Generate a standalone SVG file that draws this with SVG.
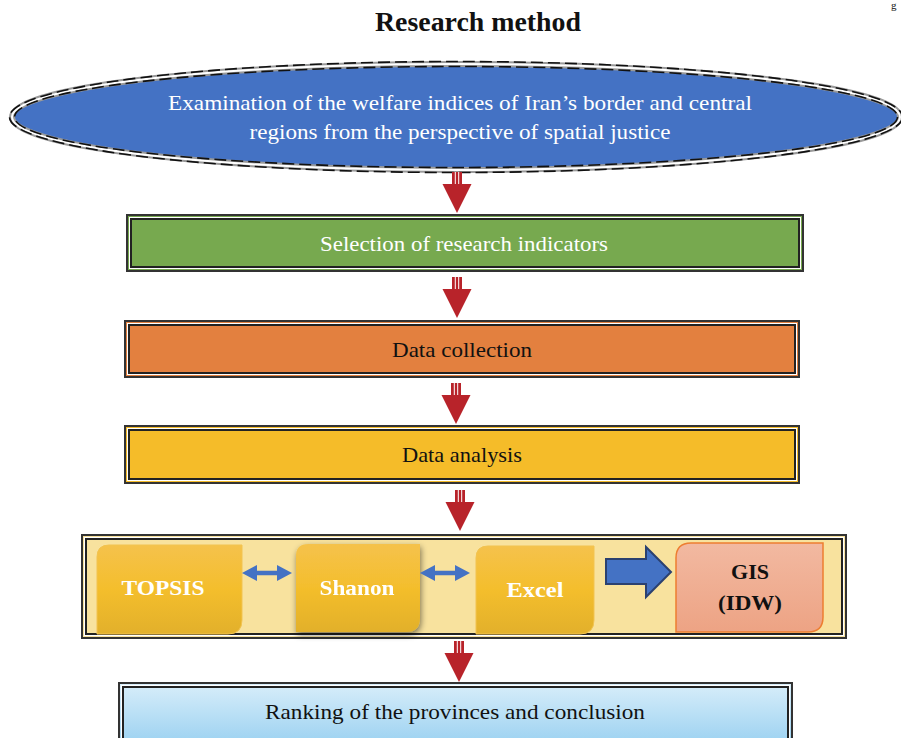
<svg xmlns="http://www.w3.org/2000/svg" width="901" height="738" viewBox="0 0 901 738">
<style>
.t{font-family:"Liberation Serif","Times New Roman",serif;text-anchor:middle}
.w{fill:#ffffff}
.k{fill:#111111}
.b{font-weight:bold}
.ob{stroke:#333;stroke-width:2}
.wl{fill:none;stroke:#ffffff;stroke-width:1}
.ib{fill:none;stroke:#222;stroke-width:2}
.red{fill:#B8232A}
.gap{stroke:#ffffff;stroke-width:1}
.blue{fill:#4472C4}
</style>
<defs>
<linearGradient id="gy" x1="0" y1="0" x2="0" y2="1">
<stop offset="0" stop-color="#F5C24C"/><stop offset="0.5" stop-color="#F4BE2C"/><stop offset="1" stop-color="#E2B02B"/>
</linearGradient>
<linearGradient id="gr" x1="0" y1="0" x2="0" y2="1">
<stop offset="0" stop-color="#F2B9A1"/><stop offset="1" stop-color="#EDA384"/>
</linearGradient>
<linearGradient id="gb" x1="0" y1="0" x2="0" y2="1">
<stop offset="0" stop-color="#D8EEFA"/><stop offset="1" stop-color="#9DD2F1"/>
</linearGradient>
<filter id="sh" x="-20%" y="-20%" width="140%" height="140%">
<feGaussianBlur in="SourceAlpha" stdDeviation="3"/>
<feOffset dx="1" dy="3" result="o"/>
<feComponentTransfer><feFuncA type="linear" slope="0.5"/></feComponentTransfer>
<feMerge><feMergeNode/><feMergeNode in="SourceGraphic"/></feMerge>
</filter>
<g id="redArrow">
<rect class="red" x="-5" y="0" width="10" height="12"/>
<line class="gap" x1="-1.7" y1="0" x2="-1.7" y2="12"/>
<line class="gap" x1="1.7" y1="0" x2="1.7" y2="12"/>
<polygon class="red" points="-14.5,12 14.5,12 0,41"/>
</g>
<path id="dbl" d="M0,0 L15,-8 L15,-2.2 L35,-2.2 L35,-8 L50,0 L35,8 L35,2.2 L15,2.2 L15,8 Z"/>
</defs>

<text class="t k b" x="478" y="31" font-size="27" textLength="206" lengthAdjust="spacingAndGlyphs">Research method</text>
<text x="891" y="9" font-size="11" font-family="Liberation Serif, serif" fill="#111">g</text>

<g id="node-examination">
<ellipse cx="456" cy="117" rx="444" ry="53" fill="#4472C4" stroke="#9a9a9a" stroke-width="6"/>
<ellipse cx="456" cy="117" rx="444" ry="53" fill="none" stroke="#ffffff" stroke-width="2"/>
<ellipse cx="456" cy="117" rx="446.5" ry="55.5" fill="none" stroke="#111" stroke-width="1.6" stroke-dasharray="12 5"/>
<ellipse cx="456" cy="117" rx="441.5" ry="50.5" fill="none" stroke="#111" stroke-width="1.6" stroke-dasharray="12 5"/>
<text class="t w" x="460" y="110" font-size="21" textLength="584" lengthAdjust="spacingAndGlyphs">Examination of the welfare indices of Iran’s border and central</text>
<text class="t w" x="460" y="139" font-size="21" textLength="421" lengthAdjust="spacingAndGlyphs">regions from the perspective of spatial justice</text>
</g>

<g id="node-selection">
<rect class="ob" x="127" y="215" width="676" height="56" fill="#77A94F"/>
<rect class="wl" x="129.5" y="217.5" width="671" height="51"/>
<rect class="ib" x="131" y="219" width="668" height="48"/>
<text class="t w" x="464" y="251" font-size="21" textLength="288" lengthAdjust="spacingAndGlyphs">Selection of research indicators</text>
</g>

<g id="node-collection">
<rect class="ob" x="125" y="321" width="674" height="56" fill="#E3803F"/>
<rect class="wl" x="127.5" y="323.5" width="669" height="51"/>
<rect class="ib" x="129" y="325" width="666" height="48"/>
<text class="t k" x="462" y="357" font-size="21" textLength="140" lengthAdjust="spacingAndGlyphs">Data collection</text>
</g>

<g id="node-analysis">
<rect class="ob" x="125" y="426" width="674" height="57" fill="#F5BC29"/>
<rect class="wl" x="127.5" y="428.5" width="669" height="52"/>
<rect class="ib" x="129" y="430" width="666" height="49"/>
<text class="t k" x="462" y="462" font-size="21" textLength="120" lengthAdjust="spacingAndGlyphs">Data analysis</text>
</g>

<g id="node-tools">
<rect class="ob" x="82" y="535" width="764" height="103" fill="#F8E29E"/>
<rect class="wl" x="84.5" y="537.5" width="759" height="98"/>
<rect class="ib" x="86" y="539" width="756" height="95"/>
</g>

<g id="node-topsis">
<path d="M97,634 L97,557 Q97,545 109,545 L242,545 L242,620 Q242,634 228,634 Z" fill="url(#gy)" stroke="#F2C350" stroke-width="1"/>
<text class="t w b" x="163" y="595" font-size="22" textLength="83" lengthAdjust="spacingAndGlyphs">TOPSIS</text>
</g>

<g id="node-shanon" filter="url(#sh)">
<path d="M296,632 L296,556 Q296,544 308,544 L420,544 L420,618 Q420,632 406,632 Z" fill="url(#gy)"/>
<text class="t w b" x="357" y="595" font-size="22" textLength="75" lengthAdjust="spacingAndGlyphs">Shanon</text>
</g>

<g id="node-excel">
<path d="M476,634 L476,558 Q476,546 488,546 L594,546 L594,620 Q594,634 580,634 Z" fill="url(#gy)" stroke="#F2C350" stroke-width="1"/>
<text class="t w b" x="535" y="597" font-size="22" textLength="57" lengthAdjust="spacingAndGlyphs">Excel</text>
</g>

<g id="node-gis">
<path d="M676,632 L676,558 Q676,543 691,543 L823,543 L823,617 Q823,632 808,632 Z" fill="url(#gr)" stroke="#ED7D31" stroke-width="1.5"/>
<text class="t k b" x="750" y="579" font-size="22" textLength="38" lengthAdjust="spacingAndGlyphs">GIS</text>
<text class="t k b" x="750" y="610" font-size="22" textLength="64" lengthAdjust="spacingAndGlyphs">(IDW)</text>
</g>

<g id="node-ranking">
<rect class="ob" x="119" y="683" width="673" height="60" fill="url(#gb)"/>
<rect class="wl" x="121.5" y="685.5" width="668" height="60"/>
<rect class="ib" x="123" y="687" width="665" height="60"/>
<text class="t k" x="455" y="719" font-size="22" textLength="380" lengthAdjust="spacingAndGlyphs">Ranking of the provinces and conclusion</text>
</g>

<g id="connectors">
<use href="#redArrow" x="457" y="172"/>
<use href="#redArrow" x="457" y="277"/>
<use href="#redArrow" x="456" y="383"/>
<use href="#redArrow" x="460" y="490"/>
<use href="#redArrow" x="459" y="641"/>
<use href="#dbl" class="blue" x="242" y="573"/>
<use href="#dbl" class="blue" x="420" y="573"/>
<polygon points="606,559 646,559 646,547 671,572 646,597 646,584 606,584" fill="#4472C4" stroke="#2B4170" stroke-width="2"/>
</g>
</svg>
